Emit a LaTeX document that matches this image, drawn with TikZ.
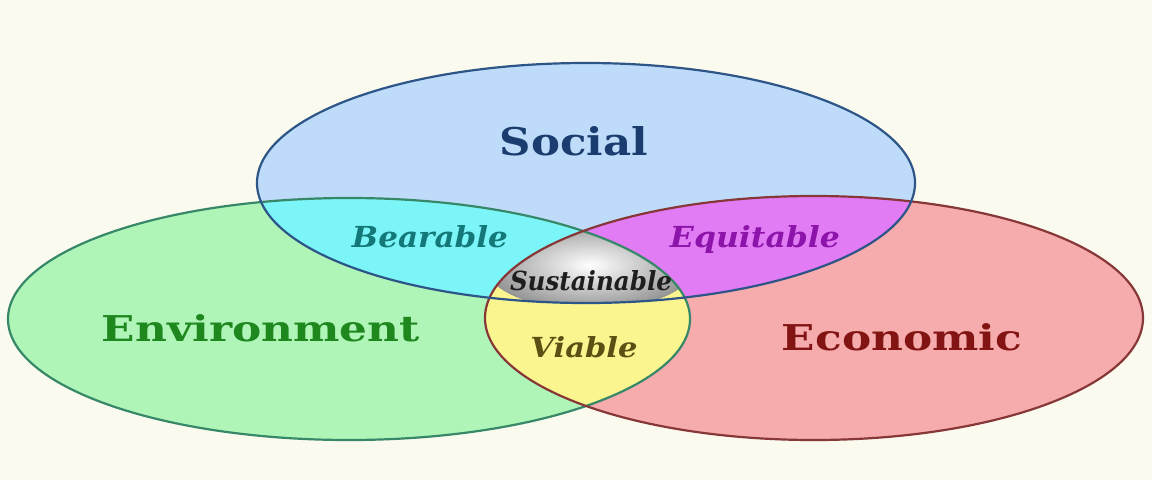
\documentclass[tikz,border=0pt]{standalone}
\usepackage{fontspec}
\setmainfont{DejaVu Serif}
\definecolor{bgc}{RGB}{251,250,238}
\definecolor{socfill}{RGB}{190,220,250}
\definecolor{envfill}{RGB}{176,245,184}
\definecolor{ecofill}{RGB}{246,172,172}
\definecolor{bearfill}{RGB}{124,245,248}
\definecolor{equifill}{RGB}{226,124,245}
\definecolor{viafill}{RGB}{250,245,142}
\definecolor{socline}{RGB}{45,85,135}
\definecolor{envline}{RGB}{55,135,105}
\definecolor{ecoline}{RGB}{135,55,55}
\definecolor{soctext}{RGB}{26,60,110}
\definecolor{envtext}{RGB}{30,135,30}
\definecolor{ecotext}{RGB}{130,20,20}
\definecolor{beartext}{RGB}{20,120,120}
\definecolor{equitext}{RGB}{140,20,170}
\definecolor{viatext}{RGB}{90,80,20}
\definecolor{sustext}{RGB}{30,30,30}
\newcommand{\fitbox}[3]{\resizebox{#1pt}{#2pt}{#3}}
\begin{document}
\begin{tikzpicture}[x=1pt,y=-1pt,
  rim/.style={line width=2.2pt},
  bigl/.style={font=\bfseries, inner sep=0pt, anchor=base},
  midl/.style={font=\bfseries\itshape, inner sep=0pt, anchor=base}]
\fill[bgc] (0,0) rectangle (1152,480);
\useasboundingbox (0,0) rectangle (1152,480);
\def\Soc{(586,183) ellipse [x radius=329pt, y radius=120pt]}
\def\Env{(349,319) ellipse [x radius=341pt, y radius=121pt]}
\def\Eco{(814,318) ellipse [x radius=329pt, y radius=122pt]}
% base fills
\fill[socfill] \Soc;
\fill[envfill] \Env;
\fill[ecofill] \Eco;
% pairwise overlaps
\begin{scope}\clip \Soc; \fill[bearfill] \Env; \end{scope}
\begin{scope}\clip \Soc; \fill[equifill] \Eco; \end{scope}
\begin{scope}\clip \Env; \fill[viafill] \Eco; \end{scope}
% triple overlap
\begin{scope}\clip \Soc; \clip \Env; \clip \Eco;
  \shade[inner color=white, outer color=black!42] (590,265) ellipse [x radius=105pt, y radius=45pt];
\end{scope}
% outlines
\draw[rim, envline] \Env;
\draw[rim, ecoline] \Eco;
\draw[rim, socline] \Soc;
% labels
\node[bigl, text=soctext] (social) at (574,155) {\fitbox{148}{29}{Social}};
\node[bigl, text=envtext] (environment) at (261,341) {\fitbox{318}{27}{Environment}};
\node[bigl, text=ecotext] (economic) at (902,350) {\fitbox{240}{27}{Economic}};
\node[midl, text=beartext] (bearable) at (430,247) {\fitbox{156}{22}{Bearable}};
\node[midl, text=equitext] (equitable) at (755,247) {\fitbox{170}{22}{Equitable}};
\node[midl, text=viatext] (viable) at (584,357) {\fitbox{107}{21}{Viable}};
\node[midl, text=sustext] (sustainable) at (591,290) {\fitbox{162}{20}{Sustainable}};
\end{tikzpicture}
\end{document}
